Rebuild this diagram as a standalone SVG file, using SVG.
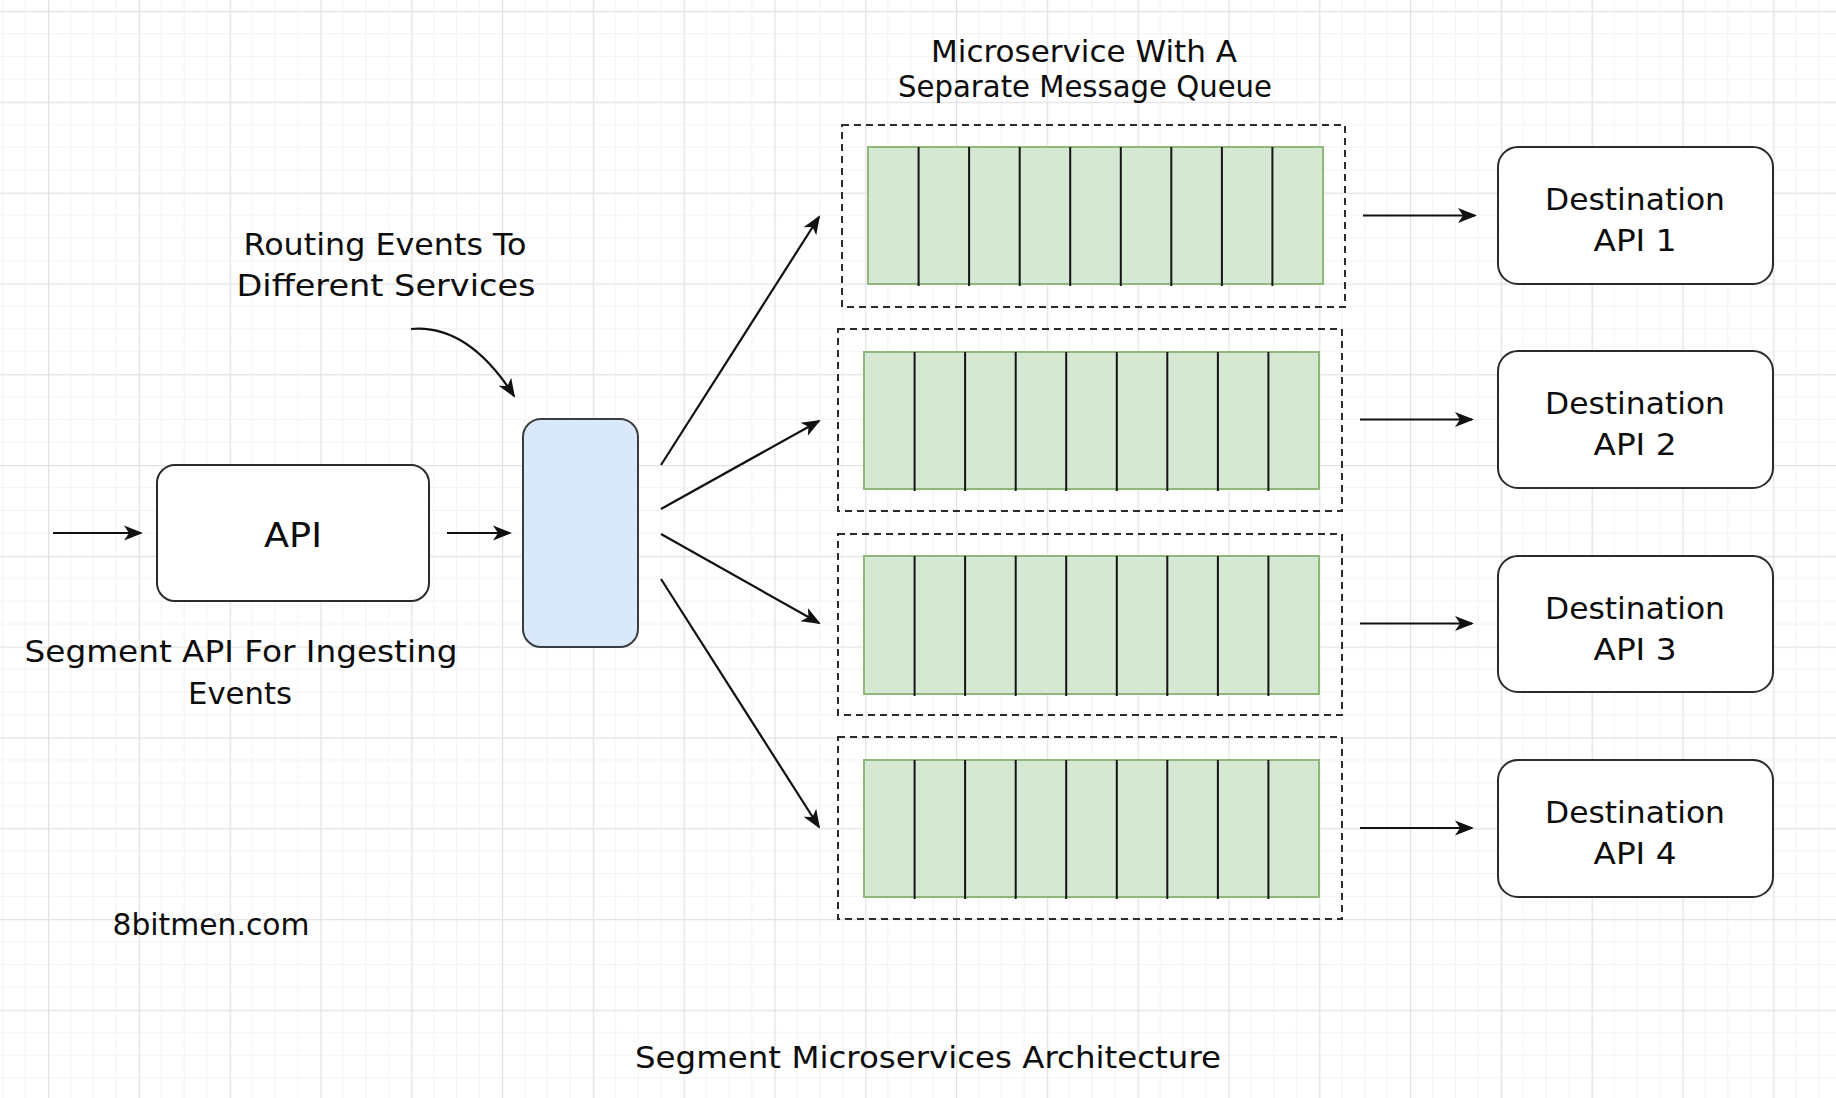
<svg xmlns="http://www.w3.org/2000/svg" width="1836" height="1098" viewBox="0 0 1836 1098">
<style>
.txt{font-family:"DejaVu Sans","Liberation Sans",sans-serif;font-size:31px;fill:#0d0d0d;text-anchor:middle}
.box{fill:#fff;stroke:#2b2b2b;stroke-width:2}
.router{fill:#dae8fc;stroke:#3a3d42;stroke-width:2}
.dash{fill:none;stroke:#2b2b2b;stroke-width:2;stroke-dasharray:7 5}
.queue{fill:#d5e8d4;stroke:#8fb87a;stroke-width:2}
.div{stroke:#141414;stroke-width:2}
.conn{fill:none;stroke:#111;stroke-width:2.2;marker-end:url(#ah)}
</style>
<defs>
<pattern id="grid" x="48" y="11" width="90.8" height="90.8" patternUnits="userSpaceOnUse">
<path d="M22.7 0V90.8M45.4 0V90.8M68.1 0V90.8M0 22.7H90.8M0 45.4H90.8M0 68.1H90.8" stroke="#f2f2f2" stroke-width="1" fill="none"/>
<path d="M0.5 0V90.8M0 0.5H90.8" stroke="#e2e2e2" stroke-width="1.5" fill="none"/>
</pattern>
<marker id="ah" markerUnits="userSpaceOnUse" markerWidth="22" markerHeight="18" refX="17" refY="8.5" orient="auto">
<path d="M0,1 L19,8.5 L0,16 L5,8.5 z" fill="#111"/>
</marker>
</defs>
<rect width="1836" height="1098" fill="#fff"/>
<rect width="1836" height="1098" fill="url(#grid)"/>

<g id="connectors">
<line class="conn" x1="53" y1="533" x2="141" y2="533"/>
<line class="conn" x1="447" y1="533" x2="510" y2="533"/>
<path class="conn" d="M411,329 Q468,324 514,396"/>
<line class="conn" x1="661" y1="465" x2="819" y2="217"/>
<line class="conn" x1="661" y1="509" x2="819" y2="421"/>
<line class="conn" x1="661" y1="534" x2="819" y2="623"/>
<line class="conn" x1="661" y1="579" x2="819" y2="827"/>
<line class="conn" x1="1363" y1="215.5" x2="1475" y2="215.5"/>
<line class="conn" x1="1360" y1="419.5" x2="1472" y2="419.5"/>
<line class="conn" x1="1360" y1="623.5" x2="1472" y2="623.5"/>
<line class="conn" x1="1360" y1="828" x2="1472" y2="828"/>
</g>

<g id="api">
<rect class="box" x="157" y="465" width="272" height="136" rx="18"/>
<text class="txt" x="293" y="547" textLength="58" lengthAdjust="spacingAndGlyphs" style="font-size:33px">API</text>
</g>

<g id="router">
<rect class="router" x="523" y="419" width="115" height="228" rx="18"/>
</g>

<g id="microservice1">
<rect class="dash" x="842" y="125" width="503" height="182"/>
<rect class="queue" x="868" y="147" width="455" height="137"/>
<path class="div" d="M918.6 147V286M969.1 147V286M1019.7 147V286M1070.2 147V286M1120.8 147V286M1171.3 147V286M1221.9 147V286M1272.4 147V286"/>
</g>
<g id="microservice2">
<rect class="dash" x="838" y="329" width="504" height="182"/>
<rect class="queue" x="864" y="352" width="455" height="137"/>
<path class="div" d="M914.6 352V491M965.1 352V491M1015.7 352V491M1066.2 352V491M1116.8 352V491M1167.3 352V491M1217.9 352V491M1268.4 352V491"/>
</g>
<g id="microservice3">
<rect class="dash" x="838" y="534" width="504" height="181"/>
<rect class="queue" x="864" y="556" width="455" height="138"/>
<path class="div" d="M914.6 556V696M965.1 556V696M1015.7 556V696M1066.2 556V696M1116.8 556V696M1167.3 556V696M1217.9 556V696M1268.4 556V696"/>
</g>
<g id="microservice4">
<rect class="dash" x="838" y="737" width="504" height="182"/>
<rect class="queue" x="864" y="760" width="455" height="137"/>
<path class="div" d="M914.6 760V899M965.1 760V899M1015.7 760V899M1066.2 760V899M1116.8 760V899M1167.3 760V899M1217.9 760V899M1268.4 760V899"/>
</g>

<g id="dest1">
<rect class="box" x="1498" y="147" width="275" height="137" rx="20"/>
<text class="txt" x="1635" y="210" textLength="180" lengthAdjust="spacingAndGlyphs">Destination</text>
<text class="txt" x="1635" y="251" textLength="83" lengthAdjust="spacingAndGlyphs">API 1</text>
</g>
<g id="dest2">
<rect class="box" x="1498" y="351" width="275" height="137" rx="20"/>
<text class="txt" x="1635" y="414" textLength="180" lengthAdjust="spacingAndGlyphs">Destination</text>
<text class="txt" x="1635" y="455" textLength="83" lengthAdjust="spacingAndGlyphs">API 2</text>
</g>
<g id="dest3">
<rect class="box" x="1498" y="556" width="275" height="136" rx="20"/>
<text class="txt" x="1635" y="619" textLength="180" lengthAdjust="spacingAndGlyphs">Destination</text>
<text class="txt" x="1635" y="660" textLength="83" lengthAdjust="spacingAndGlyphs">API 3</text>
</g>
<g id="dest4">
<rect class="box" x="1498" y="760" width="275" height="137" rx="20"/>
<text class="txt" x="1635" y="823" textLength="180" lengthAdjust="spacingAndGlyphs">Destination</text>
<text class="txt" x="1635" y="864" textLength="83" lengthAdjust="spacingAndGlyphs">API 4</text>
</g>

<g id="labels">
<text class="txt" x="1084" y="62" textLength="306" lengthAdjust="spacingAndGlyphs">Microservice With A</text>
<text class="txt" x="1085" y="97" textLength="374" lengthAdjust="spacingAndGlyphs">Separate Message Queue</text>
<text class="txt" x="385" y="255" textLength="283" lengthAdjust="spacingAndGlyphs">Routing Events To</text>
<text class="txt" x="386" y="296" textLength="299" lengthAdjust="spacingAndGlyphs">Different Services</text>
<text class="txt" x="241" y="662" textLength="433" lengthAdjust="spacingAndGlyphs">Segment API For Ingesting</text>
<text class="txt" x="240" y="704" textLength="104" lengthAdjust="spacingAndGlyphs">Events</text>
<text class="txt" x="211" y="935" textLength="197" lengthAdjust="spacingAndGlyphs">8bitmen.com</text>
<text class="txt" x="928" y="1068" textLength="586" lengthAdjust="spacingAndGlyphs">Segment Microservices Architecture</text>
</g>
</svg>
